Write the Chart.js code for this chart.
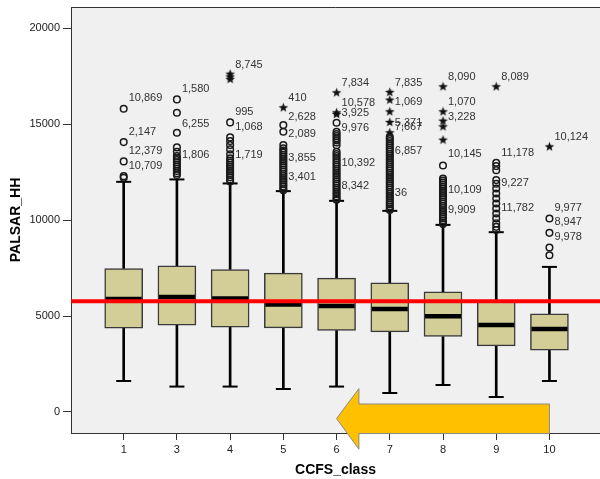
<!DOCTYPE html>
<html>
<head>
<meta charset="utf-8">
<script src="https://cdn.jsdelivr.net/npm/chart.js@4.4.1/dist/chart.umd.min.js"></script>
<style>
  html, body { margin: 0; padding: 0; background: #fff; overflow: hidden; }
</style>
</head>
<body>
<canvas id="boxChart" width="600" height="479"></canvas>
<script>
// CCFS classes (class 2 has no data)
const classes = ['1', '3', '4', '5', '6', '7', '8', '9', '10'];

// box plot statistics, PALSAR_HH
const lowWhisker  = [1617, 1325, 1325, 1200, 1325,  991, 1408,  782, 1617];
const q1          = [4366, 4522, 4418, 4381, 4246, 4173, 3933, 3443, 3218];
const median      = [5894, 5998, 5915, 5602, 5529, 5372, 4992, 4538, 4329];
const q3          = [7480, 7615, 7428, 7235, 6974, 6729, 6259, 5826, 5112];
const highWhisker = [11997, 12122, 11913, 11512, 11006, 10484, 9754, 9373, 7563];

// outliers (o) per class
const circleOutliers = [
  [15804, 14068, 13061, 12294, 12210],
  [16295, 15596, 14553, 13791, 13562, 13340, 13230, 13130, 13020, 12900, 12790, 12680, 12560, 12450, 12350],
  [15095, 14312, 14120, 13911, 13687, 13426, 13220, 13110, 13000, 12890, 12780, 12670, 12560, 12450, 12340, 12230, 12120, 12020],
  [14954, 14605, 13911, 13739, 13630, 13520, 13410, 13300, 13190, 13080, 12970, 12860, 12750, 12640, 12530,
   12420, 12310, 12200, 12090, 11980, 11870, 11760, 11650, 11560],
  [15074, 14605, 14490, 14380, 14270, 14160, 14050, 13900, 13560, 13450, 13340, 13230, 13120, 13010, 12900,
   12790, 12680, 12570, 12460, 12350, 12240, 12130, 12020, 11910, 11800, 11690, 11580, 11470, 11360, 11250, 11140, 11060],
  [14340, 14230, 14120, 14010, 13900, 13790, 13680, 13570, 13460, 13350, 13240, 13130, 13020, 12910, 12800,
   12690, 12580, 12470, 12360, 12250, 12140, 12030, 11920, 11810, 11700, 11590, 11480, 11370, 11260, 11150,
   11040, 10930, 10820, 10710, 10600, 10530],
  [12852, 12174, 12070, 11960, 11850, 11740, 11630, 11520, 11410, 11300, 11190, 11080, 10970, 10860, 10750,
   10640, 10530, 10420, 10310, 10200, 10090, 9980, 9870, 9800],
  [12988, 12816, 12607, 12086, 11900, 11650, 11390, 11130, 10870, 10610, 10350, 10090, 9830, 9650, 9480],
  [10088, 9337, 8575, 8173]
];
// extreme values (*) per class
const starOutliers = [
  [],
  [],
  [17610, 17470, 17340],
  [15857],
  [16639, 15596, 15512],
  [16660, 16258, 15649, 15095, 14553],
  [16951, 15649, 15163, 14866, 14172],
  [16951],
  [13822]
];

// case labels next to the outliers
const labelClass = [0, 0, 0, 0, 1, 1, 1, 2, 2, 2, 2, 3, 3, 3, 3, 3,
                    4, 4, 4, 4, 4, 4, 5, 5, 5, 5, 5, 5, 6, 6, 6, 6, 6, 6,
                    7, 7, 7, 7, 8, 8, 8, 8];
const labelValue = [16347, 14605, 13614, 12816, 16816, 14991, 13390, 18085, 15617, 14834, 13374,
                    16347, 15387, 14485, 13249, 12258,
                    17129, 16086, 15565, 14782, 12988, 11773,
                    17129, 16138, 15074, 14866, 13598, 11392,
                    17474, 16138, 15356, 13426, 11564, 10521,
                    17474, 13478, 11913, 10609,
                    14312, 10609, 9879, 9128];
const labelText = ['10,869', '2,147', '12,379', '10,709', '1,580', '6,255', '1,806', '8,745', '995', '1,068', '1,719',
                   '410', '2,628', '2,089', '3,855', '3,401',
                   '7,834', '10,578', '3,925', '9,976', '10,392', '8,342',
                   '7,835', '1,069', '5,371', '7,667', '6,857', '36',
                   '8,090', '1,070', '3,228', '10,145', '10,109', '9,909',
                   '8,089', '11,178', '9,227', '11,782',
                   '10,124', '9,977', '8,947', '9,978'];

const refLine = 5774;
const yTicks = [0, 5000, 10000, 15000, 20000];
const xMin = -0.99, xMax = 8.95;
const yMin = -1095, yMax = 21110;

Chart.defaults.font.family = "'Liberation Sans', Arial, sans-serif";

// filled five point star for extreme values
const star = document.createElement('canvas');
star.width = 11; star.height = 11;
(function () {
  const c = star.getContext('2d');
  c.fillStyle = '#111';
  c.beginPath();
  for (let k = 0; k < 10; k++) {
    const r = k % 2 === 0 ? 5 : 2.1;
    const a = -Math.PI / 2 + k * Math.PI / 5;
    const px = 5.5 + r * Math.cos(a), py = 5.5 + r * Math.sin(a);
    if (k === 0) c.moveTo(px, py); else c.lineTo(px, py);
  }
  c.closePath();
  c.fill();
})();

const circlePts = [];
circleOutliers.forEach((vals, i) => vals.forEach(v => circlePts.push({x: i, y: v})));
const starPts = [];
starOutliers.forEach((vals, i) => vals.forEach(v => starPts.push({x: i, y: v})));
const capPts = [];
classes.forEach((c, i) => { capPts.push({x: i, y: lowWhisker[i]}); capPts.push({x: i, y: highWhisker[i]}); });

function noPad(s) {
  s.paddingTop = 0; s.paddingBottom = 0; s.paddingLeft = 0; s.paddingRight = 0;
}

const plotBack = {
  id: 'plotBack',
  beforeDraw(chart) {
    const {ctx, chartArea: a} = chart;
    ctx.save();
    ctx.fillStyle = '#f0f0f0';
    ctx.fillRect(a.left, a.top, a.right - a.left, a.bottom - a.top);
    ctx.strokeStyle = '#333';
    ctx.lineWidth = 1;
    ctx.beginPath();
    ctx.moveTo(a.left, a.top + 0.5);
    ctx.lineTo(a.right, a.top + 0.5);
    ctx.stroke();
    ctx.restore();
  }
};

const caseLabels = {
  id: 'caseLabels',
  afterDatasetsDraw(chart) {
    const {ctx, scales: {x, y}} = chart;
    ctx.save();
    ctx.font = "11px 'Liberation Sans', Arial, sans-serif";
    ctx.fillStyle = '#333';
    ctx.textAlign = 'left';
    ctx.textBaseline = 'middle';
    labelText.forEach((t, k) => {
      ctx.fillText(t, x.getPixelForValue(labelClass[k]) + 5, y.getPixelForValue(labelValue[k]));
    });
    ctx.restore();
  }
};

// yellow arrow pointing from class 10 back to class 6
const arrow = {
  id: 'arrow',
  afterDraw(chart) {
    const {ctx, scales: {x, y}} = chart;
    const pts = [[4.0, -344], [4.42, 1219], [4.42, 417], [8, 417], [8, -1125], [4.42, -1125], [4.42, -1943]];
    ctx.save();
    ctx.beginPath();
    pts.forEach((p, k) => {
      const px = x.getPixelForValue(p[0]), py = y.getPixelForValue(p[1]);
      if (k === 0) ctx.moveTo(px, py); else ctx.lineTo(px, py);
    });
    ctx.closePath();
    ctx.fillStyle = '#ffc000';
    ctx.fill();
    ctx.strokeStyle = '#8a8a8a';
    ctx.lineWidth = 1;
    ctx.stroke();
    ctx.restore();
  }
};

new Chart(document.getElementById('boxChart'), {
  type: 'bar',
  data: {
    datasets: [
      {
        type: 'line',
        data: [{x: xMin, y: refLine}, {x: xMax, y: refLine}],
        borderColor: '#ff0000', borderWidth: 4, pointRadius: 0, order: 0
      },
      {
        type: 'scatter',
        data: starPts,
        pointStyle: star, pointRadius: 5, order: 1
      },
      {
        type: 'scatter',
        data: circlePts,
        pointStyle: 'circle', pointRadius: 3.3, borderWidth: 1.5,
        borderColor: '#1a1a1a', backgroundColor: 'rgba(0,0,0,0)', order: 1
      },
      {
        type: 'scatter',
        data: median.map((v, i) => ({x: i, y: v})),
        pointStyle: 'line', pointRadius: 18, borderWidth: 4.5, borderColor: '#000', order: 2
      },
      {
        type: 'bar',
        data: q1.map((v, i) => ({x: i, y: [v, q3[i]]})),
        backgroundColor: '#d3ce98', borderColor: '#3a3a3a', borderWidth: 1.5,
        borderSkipped: false, barThickness: 38, grouped: false, order: 3
      },
      {
        type: 'scatter',
        data: capPts,
        pointStyle: 'line', pointRadius: 7.5, borderWidth: 2, borderColor: '#000', order: 4
      },
      {
        type: 'bar',
        data: lowWhisker.map((v, i) => ({x: i, y: [v, q1[i]]})),
        backgroundColor: '#000', barThickness: 2, grouped: false, order: 5
      },
      {
        type: 'bar',
        data: q3.map((v, i) => ({x: i, y: [v, highWhisker[i]]})),
        backgroundColor: '#000', barThickness: 2, grouped: false, order: 5
      }
    ]
  },
  options: {
    responsive: false,
    animation: false,
    layout: { autoPadding: false, padding: { top: 7, right: 0, bottom: 0, left: 0 } },
    plugins: { legend: { display: false }, tooltip: { enabled: false } },
    scales: {
      x: {
        type: 'linear',
        min: xMin, max: xMax,
        offset: false,
        afterBuildTicks: s => { s.ticks = classes.map((c, i) => ({value: i})); },
        afterFit: s => { s.height = 46; noPad(s); },
        ticks: {
          callback: v => classes[v],
          autoSkip: false, maxRotation: 0, padding: 3,
          color: '#222', font: { size: 11 }
        },
        grid: { drawOnChartArea: false, offset: false, tickLength: 7, color: '#333' },
        border: { color: '#333', width: 1 },
        title: {
          display: true, text: 'CCFS_class', color: '#000',
          font: { size: 14, weight: 'bold' }, padding: { top: 0, bottom: 0 }
        }
      },
      y: {
        type: 'linear',
        min: yMin, max: yMax,
        afterBuildTicks: s => { s.ticks = yTicks.map(v => ({value: v})); },
        afterFit: s => { s.width = 71; noPad(s); },
        ticks: { callback: v => String(v), padding: 3, color: '#222', font: { size: 11 } },
        grid: { drawOnChartArea: false, tickLength: 8, color: '#333' },
        border: { color: '#333', width: 1 },
        title: {
          display: true, text: 'PALSAR_HH', color: '#000',
          font: { size: 14, weight: 'bold' }, padding: { top: 8, bottom: 0 }
        }
      }
    }
  },
  plugins: [plotBack, caseLabels, arrow]
});
</script>
</body>
</html>
